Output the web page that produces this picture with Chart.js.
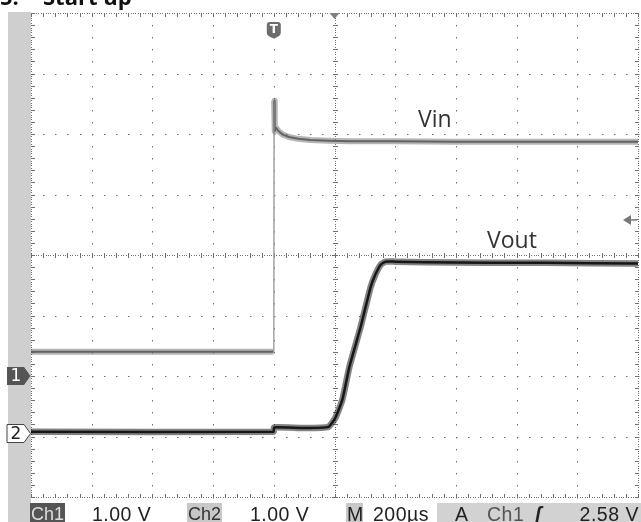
<!DOCTYPE html>
<html>
<head>
<meta charset="utf-8">
<script src="https://cdn.jsdelivr.net/npm/chart.js@4.4.1/dist/chart.umd.min.js"></script>
<style>
  body { margin: 0; background: #fff; }
  #wrap { position: relative; width: 641px; height: 522px; overflow: hidden; background: #fff; }
  #strip { position: absolute; left: 8px; top: 12px; width: 23px; height: 510px; background: #cfcfcf; }
  #scope { position: absolute; left: 0; top: 0; }
  .title { position: absolute; top: -15px; font: 700 22px/22px "Open Sans", sans-serif; color: #111; white-space: nowrap; }
  .lbl { position: absolute; font: 23px/23px "Open Sans", sans-serif; color: #333; }
  .box { position: absolute; top: 503px; height: 19px; }
  .st { position: absolute; top: 505px; font: 19.5px/19px "Liberation Sans", sans-serif; letter-spacing: 0.5px; color: #222; white-space: nowrap; }
  .ch { font-size: 18px; letter-spacing: 0; }
</style>
</head>
<body>
<div id="wrap">
  <div id="strip"></div>
  <canvas id="scope" width="641" height="522"></canvas>
  <div class="title" style="left:0">5.</div>
  <div class="title" style="left:43px">Start up</div>
  <div class="lbl" style="left:418px;top:107px">Vin</div>
  <div class="lbl" style="left:487px;top:228px">Vout</div>

  <div class="box" style="left:30px;width:35px;background:#555"></div>
  <div class="box" style="left:187px;width:35px;background:#c8c8c8"></div>
  <div class="box" style="left:346px;width:17px;background:#c8c8c8"></div>
  <div class="box" style="left:437px;width:204px;background:#d2d2d2"></div>
  <div class="st ch" style="left:31px;color:#dedede">Ch1</div>
  <div class="st" style="left:92px">1.00 V</div>
  <div class="st ch" style="left:188px;color:#333">Ch2</div>
  <div class="st" style="left:250px">1.00 V</div>
  <div class="st" style="left:347px">M</div>
  <div class="st" style="left:373px">200µs</div>
  <div class="st" style="left:455px">A</div>
  <div class="st" style="left:487px;color:#555">Ch1</div>
  <div class="st" style="left:535px;font-weight:bold;font-style:italic">ʃ</div>
  <div class="st" style="right:2px">2.58 V</div>
</div>
<script>
// Time axis in µs, 0 = trigger; 200 µs/div, 10 divisions
const timeTicks = [-800, -600, -400, -200, 0, 200, 400, 600, 800, 1000, 1200];
// Ch1 volts, 1 V/div, 8 divisions (ground on 6th line from top)
const voltTicks = [-2, -1, 0, 1, 2, 3, 4, 5, 6];
const triggerLevel = 2.58;

// Ch1 - Vin
const vinTime  = [-800, -1, 0, 1, 3, 8, 15, 30, 50, 80, 120, 180, 250, 400, 600, 800, 1000, 1200];
const vinVolts = [0.40, 0.40, 0.40, 4.55, 4.05, 4.10, 4.05, 3.99, 3.95, 3.92, 3.90, 3.89, 3.88, 3.88, 3.87, 3.87, 3.87, 3.87];

// Ch2 - Vout
const voutTime  = [-800, -1, 1, 100, 180, 203, 226, 249, 286, 319, 335, 352, 368, 400, 500, 700, 900, 1200];
const voutVolts = [0.02, 0.02, 0.09, 0.08, 0.10, 0.25, 0.55, 1.09, 1.75, 2.41, 2.62, 2.78, 2.83, 2.83, 2.82, 2.81, 2.81, 2.80];

const toPoints = (xs, ys) => xs.map((x, i) => ({ x, y: ys[i] }));
const jumpThin = c => Math.abs(c.p1.parsed.y - c.p0.parsed.y) > 1.5 ? 1 : undefined;
const jumpColor = c => Math.abs(c.p1.parsed.y - c.p0.parsed.y) > 1.5 ? '#a0a0a0' : undefined;

// oscilloscope graticule
const graticule = {
  id: 'graticule',
  beforeDatasetsDraw(chart) {
    const { ctx, chartArea: a, scales: { x, y } } = chart;
    const gx = timeTicks.map(v => Math.round(x.getPixelForValue(v)));
    const gy = voltTicks.map(v => Math.round(y.getPixelForValue(v)));
    const dx = (gx[10] - gx[0]) / 50, dy = (gy[0] - gy[8]) / 40;
    ctx.save();
    ctx.fillStyle = '#707070';
    // plain dotted lines
    gx.forEach((px, i) => {
      if (i === 0 || i === 5 || i === 10) return;
      for (let k = 0; k <= 40; k++) ctx.fillRect(px, Math.round(a.top + k * dy), 1, 1.5);
    });
    gy.forEach((py, i) => {
      if (i === 0 || i === 4 || i === 8) return;
      for (let k = 0; k <= 50; k++) ctx.fillRect(Math.round(a.left + k * dx), py, 1.5, 1);
    });
    // centre lines and border: dense dots plus ticks
    const vLine = (px, tl, tr) => {
      for (let k = 0; k <= 200; k++) ctx.fillRect(px, Math.round(a.top + k * dy / 5), 1, 1);
      for (let k = 0; k <= 40; k++) ctx.fillRect(px - tl, Math.round(a.top + k * dy), tl + tr + 1, 1);
    };
    const hLine = (py, tu, td) => {
      for (let k = 0; k <= 250; k++) ctx.fillRect(Math.round(a.left + k * dx / 5), py, 1, 1);
      for (let k = 0; k <= 50; k++) ctx.fillRect(Math.round(a.left + k * dx), py - tu, 1, tu + td + 1);
    };
    vLine(gx[5], 2, 2);
    hLine(gy[4], 2, 2);
    vLine(gx[0], 0, 3);
    vLine(gx[10], 3, 0);
    hLine(gy[8], 0, 3);
    hLine(gy[0], 3, 0);
    ctx.restore();
  },
  afterDatasetsDraw(chart) {
    const { ctx, scales: { x, y, y2 } } = chart;
    ctx.save();
    // channel ground markers
    const marker = (py, fill, stroke, txt, txtColor) => {
      ctx.beginPath();
      ctx.moveTo(7, py - 9); ctx.lineTo(24, py - 9); ctx.lineTo(30.5, py);
      ctx.lineTo(24, py + 9); ctx.lineTo(7, py + 9); ctx.closePath();
      ctx.fillStyle = fill; ctx.fill();
      if (stroke) { ctx.strokeStyle = stroke; ctx.lineWidth = 1; ctx.stroke(); }
      ctx.fillStyle = txtColor;
      ctx.font = '17px "DejaVu Sans", sans-serif';
      ctx.textAlign = 'center'; ctx.textBaseline = 'middle';
      ctx.fillText(txt, 16, py + 1);
    };
    marker(Math.round(y.getPixelForValue(0)), '#555', null, '1', '#fff');
    marker(Math.round(y2.getPixelForValue(0)) + 0.5, '#fff', '#444', '2', '#222');

    // trigger position marker
    const tx = x.getPixelForValue(0);
    ctx.beginPath();
    ctx.moveTo(tx - 7, 25);
    ctx.quadraticCurveTo(tx - 7, 22, tx - 4, 22);
    ctx.lineTo(tx + 4, 22);
    ctx.quadraticCurveTo(tx + 7, 22, tx + 7, 25);
    ctx.lineTo(tx + 7, 33);
    ctx.quadraticCurveTo(tx + 7, 36, tx, 38.5);
    ctx.quadraticCurveTo(tx - 7, 36, tx - 7, 33);
    ctx.closePath();
    ctx.fillStyle = '#6c6c6c'; ctx.fill();
    ctx.fillStyle = '#fff';
    ctx.font = 'bold 12px "DejaVu Sans", sans-serif';
    ctx.textAlign = 'center'; ctx.textBaseline = 'middle';
    ctx.fillText('T', tx, 30);

    // screen centre marker
    const cx = x.getPixelForValue(200), top = chart.chartArea.top;
    ctx.beginPath();
    ctx.moveTo(cx - 5, top); ctx.lineTo(cx + 5, top); ctx.lineTo(cx, top + 6); ctx.closePath();
    ctx.fillStyle = '#808080'; ctx.fill();

    // trigger level arrow
    const ly = y.getPixelForValue(triggerLevel);
    ctx.beginPath();
    ctx.moveTo(623, ly); ctx.lineTo(631, ly - 5); ctx.lineTo(631, ly + 5); ctx.closePath();
    ctx.fillStyle = '#777'; ctx.fill();
    ctx.fillRect(630, ly - 0.75, 7, 1.5);
    ctx.restore();
  }
};

new Chart(document.getElementById('scope'), {
  type: 'line',
  data: {
    datasets: [
      { data: toPoints(vinTime, vinVolts), yAxisID: 'y', borderColor: 'rgba(120,120,120,0.55)', borderWidth: 6, tension: 0,
        segment: { borderWidth: jumpThin, borderColor: jumpColor } },
      { data: toPoints(vinTime, vinVolts), yAxisID: 'y', borderColor: '#4a4a4a', borderWidth: 2, tension: 0,
        segment: { borderWidth: jumpThin, borderColor: jumpColor } },
      { data: toPoints(voutTime, voutVolts), yAxisID: 'y2', borderColor: 'rgba(30,30,30,0.55)', borderWidth: 6.5 },
      { data: toPoints(voutTime, voutVolts), yAxisID: 'y2', borderColor: '#111', borderWidth: 2.5 }
    ]
  },
  options: {
    responsive: false,
    animation: false,
    devicePixelRatio: 1,
    layout: { padding: { left: 31, right: 3, top: 13, bottom: 25 } },
    elements: { point: { radius: 0 }, line: { tension: 0.15, borderJoinStyle: 'round' } },
    plugins: { legend: { display: false }, tooltip: { enabled: false } },
    scales: {
      x: { type: 'linear', min: -800, max: 1200, display: false },
      y: { min: -2, max: 6, display: false },
      y2: { min: -1.06, max: 6.94, display: false }
    }
  },
  plugins: [graticule]
});
</script>
</body>
</html>
